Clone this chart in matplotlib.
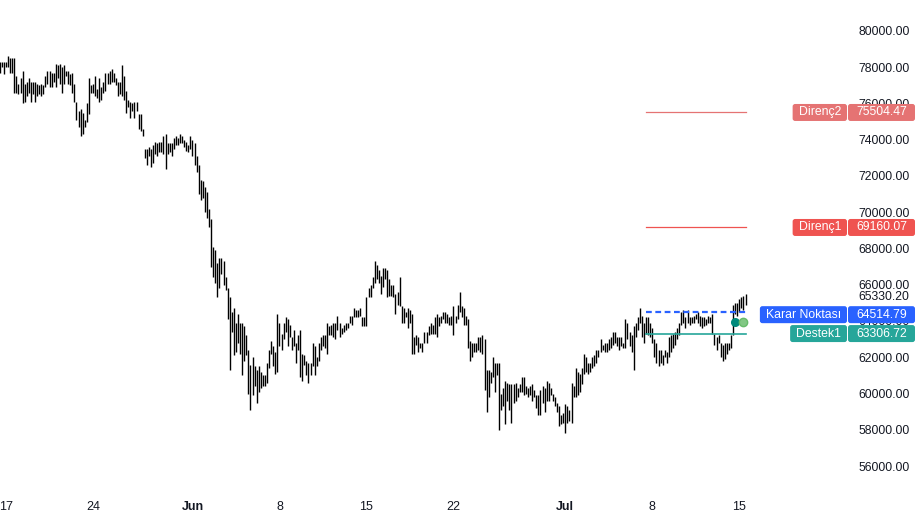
import numpy as np
import pandas as pd
import matplotlib
matplotlib.use('Agg')
import matplotlib.pyplot as plt
import matplotlib.dates as mdates
from matplotlib.patches import FancyBboxPatch
from matplotlib.transforms import IdentityTransform

plt.rcParams['font.family'] = ['Liberation Sans', 'DejaVu Sans']

# 4h bars, first bar time
start = '2024-05-16 12:00'

# bar highs / lows, thousands USD
highs = [
    78.3, 78.3, 78.3, 78.3, 78.6, 78.5, 78.5, 78.5, 77.5, 77.1,
    77.4, 77.8, 77.1, 77.2, 77.4, 77.2, 77.2, 77.2, 77.1, 77.0,
    77.1, 77.0, 77.5, 77.8, 77.8, 77.7, 77.7, 78.2, 78.1, 78.2,
    78.0, 78.1, 77.8, 77.8, 77.6, 77.7, 77.1, 76.1, 75.6, 75.7,
    75.5, 75.1, 76.0, 77.4, 77.0, 77.1, 77.5, 76.8, 77.4, 76.9,
    77.2, 77.7, 77.7, 77.8, 77.9, 77.7, 77.4, 77.2, 77.2, 78.1,
    77.5,
    76.7, 76.2, 76.1, 76.0, 76.1, 76.1,
    75.4, 75.4, 74.6, 73.5, 73.5, 73.6, 73.5, 73.7, 73.9, 73.8,
    73.9, 73.9, 74.2, 74.3, 73.8, 73.8, 73.8, 74.1, 74.2, 74.1,
    74.3, 74.2, 74.0, 73.9, 73.7, 74.2, 74.0, 73.8, 73.1, 72.6,
    71.8, 71.7, 71.4, 71.1, 70.2, 69.6, 68.1, 67.9, 67.2, 67.5,
    67.5, 67.3, 66.4, 65.8, 65.3, 64.5, 64.7, 63.9, 64.4, 63.9,
    63.9, 63.7, 63.2, 62.4,
    61.6, 62.0, 61.5, 61.3, 61.5, 61.2, 61.0, 61.0, 61.7, 62.4,
    62.9, 62.6, 62.3, 64.4, 63.9, 63.3, 63.9, 64.2, 64.1, 63.8,
    63.1, 63.5, 62.8, 63.2, 63.5,
    62.2, 62.1, 61.8, 61.7, 61.7, 62.8, 62.6, 62.0, 62.8, 63.1,
    63.2, 63.2, 63.9, 63.7, 63.8, 63.9, 63.9, 64.3, 63.9, 63.6,
    63.8, 63.9, 63.9, 64.3, 64.3, 64.7, 64.6,
    64.6, 64.7, 64.2, 64.2, 65.3, 65.8, 66.0, 66.4, 67.3,
    67.1, 66.8, 66.5, 66.9, 66.9, 66.8, 66.3,
    66.0, 66.0, 65.5, 65.6, 66.4, 64.8, 64.7, 64.5, 64.7, 64.6,
    64.4, 63.1, 63.2, 63.1, 62.8, 62.8, 63.4, 63.4, 63.7, 63.9,
    63.8, 64.2, 64.4, 64.2, 64.3, 64.5, 64.5, 64.4,
    64.2, 64.3, 64.8, 64.3, 64.9, 65.6, 64.8, 64.7, 64.3, 64.1,
    62.9, 62.8, 62.8, 62.8, 63.1, 63.1, 63.2, 63.0, 61.3, 61.3,
    61.2, 62.0, 61.7, 61.7, 61.7,
    60.0, 60.3, 60.7, 60.6, 60.5, 60.5, 60.5, 60.6, 60.3,
    60.5, 60.9, 60.9, 60.4, 60.3, 60.4, 60.5, 60.2, 59.9, 59.9,
    60.2, 60.4, 60.3, 60.7, 60.6, 60.3, 60.0, 59.8, 59.5, 59.3,
    58.8, 58.9, 59.4, 59.3, 59.1, 60.6, 60.4, 61.4, 61.2, 61.1,
    61.4, 62.2, 62.0, 61.7, 61.7, 62.0, 62.1, 62.4,
    62.4, 63.0, 62.7, 62.8, 62.8, 63.0, 63.1, 63.4, 63.4, 63.1,
    63.1, 63.1, 62.8,
    64.1, 63.9, 63.4, 63.2, 63.7, 63.9, 64.2, 64.7, 64.3, 63.9,
    64.2, 64.2, 63.9, 63.6, 63.0, 62.8, 62.4, 62.4, 62.1, 62.4,
    62.3, 63.1, 63.2, 63.3, 63.4, 63.6, 63.9, 64.5, 64.6, 64.2,
    64.6, 64.2,
    64.2, 64.3, 64.4, 64.5, 64.3, 64.2, 64.2, 64.1,
    64.3, 64.2, 64.4, 63.3, 63.1, 63.2, 62.8, 62.7, 62.8, 62.8,
    62.8, 63.2, 64.9, 65.0, 65.0, 65.2, 65.3, 65.4, 65.5,
]
lows = [
    77.7, 78.0, 77.6, 78.0, 78.0, 77.7, 77.7, 76.6, 76.6, 76.5,
    76.6, 76.0, 76.1, 76.4, 76.6, 76.1, 76.5, 76.1, 76.4, 76.5,
    76.4, 76.5, 76.9, 77.1, 76.9, 76.9, 77.2, 76.9, 77.4, 77.1,
    76.6, 77.1, 77.5, 77.1, 77.0, 76.6, 76.1, 75.1, 74.7, 74.2,
    74.3, 74.7, 75.0, 75.4, 76.6, 76.6, 76.4, 76.3, 76.1, 76.2,
    76.6, 76.7, 77.1, 77.1, 77.2, 77.2, 77.0, 76.4, 76.5, 76.4,
    76.2,
    75.5, 75.8, 75.2, 75.6, 75.2, 75.6,
    74.6, 74.5, 74.2, 73.0, 72.6, 73.1, 72.5, 72.7, 73.2, 73.1,
    73.3, 73.3, 73.2, 72.4, 73.2, 73.3, 73.1, 73.5, 73.7, 73.7,
    73.8, 73.8, 73.6, 73.4, 73.3, 73.5, 73.1, 72.6, 72.2, 71.0,
    70.7, 70.8, 70.0, 69.7, 69.2, 67.0, 66.4, 66.1, 65.3, 65.8,
    66.6, 66.0, 65.7, 64.1, 61.3, 63.4, 62.1, 62.3, 62.8, 62.2,
    61.0, 61.8, 62.1, 60.0,
    59.1, 59.9, 60.4, 59.5, 60.1, 60.3, 60.4, 60.4, 60.6, 61.4,
    62.2, 61.5, 61.1, 61.2, 62.6, 62.4, 63.0, 63.4, 62.6, 63.1,
    62.4, 62.6, 61.7, 62.4, 60.9,
    60.7, 61.6, 61.0, 60.6, 61.0, 61.5, 61.0, 61.5, 61.8, 62.4,
    62.6, 62.5, 62.2, 63.2, 63.2, 63.1, 63.0, 63.5, 63.1, 63.3,
    63.4, 63.5, 63.6, 63.9, 63.8, 64.2, 64.2,
    64.2, 64.3, 63.7, 63.7, 63.7, 65.3, 65.3, 65.8, 66.1,
    66.3, 66.1, 65.5, 65.9, 66.3, 65.3, 65.4,
    65.4, 65.3, 64.4, 64.9, 64.8, 63.9, 63.9, 64.2, 63.6, 63.9,
    62.2, 62.2, 62.7, 62.3, 62.5, 62.3, 62.8, 62.8, 63.2, 63.3,
    63.3, 63.3, 63.1, 63.7, 63.9, 64.1, 63.9, 63.9,
    63.8, 63.8, 63.2, 63.9, 64.1, 64.5, 64.2, 63.8, 63.8, 62.5,
    61.8, 62.0, 62.3, 62.3, 62.4, 62.3, 62.2, 60.2, 59.0, 59.8,
    60.6, 60.9, 60.1, 61.0, 58.0,
    59.1, 59.3, 58.3, 59.6, 59.1, 58.4, 59.5, 59.6, 59.8,
    60.1, 60.1, 59.9, 60.0, 59.8, 59.9, 59.6, 59.8, 59.2, 58.8,
    58.8, 59.5, 59.0, 59.6, 59.6, 59.9, 59.6, 59.3, 59.0, 58.2,
    58.3, 58.4, 57.8, 58.4, 58.5, 58.4, 59.8, 59.8, 59.9, 60.1,
    60.5, 61.1, 61.2, 61.1, 61.2, 61.4, 61.5, 61.7,
    62.0, 62.3, 62.4, 62.3, 62.3, 62.4, 62.5, 62.7, 62.8, 62.6,
    62.4, 62.6, 62.5,
    62.5, 63.0, 62.6, 62.3, 61.3, 63.1, 63.5, 63.9, 63.1, 62.8,
    63.3, 63.2, 63.1, 62.8, 62.0, 61.7, 61.5, 61.7, 61.6, 62.0,
    61.7, 62.0, 62.3, 62.5, 62.7, 63.0, 63.2, 63.8, 63.9, 63.6,
    63.9, 63.8,
    63.9, 63.9, 64.1, 63.9, 63.7, 63.6, 63.7, 63.8,
    63.9, 63.9, 63.3, 62.7, 62.4, 62.8, 62.0, 61.8, 61.9, 62.2,
    62.4, 62.5, 63.2, 64.4, 64.3, 64.5, 64.7, 64.6, 64.9,
]

last_price = 65330.20

level_names = ['Direnç2', 'Direnç1', 'Karar Noktası', 'Destek1']
level_values = [75504.47, 69160.07, 64514.79, 63306.72]
level_colors = ['#e57373', '#ef5350', '#2962ff', '#26a69a']
level_start = '2024-07-07 12:00'
level_end = '2024-07-15 12:00'

signal_times = ['2024-07-14 16:00', '2024-07-15 08:00']
signal_price = 63950

tick_dates = ['2024-05-17', '2024-05-24', '2024-06-01', '2024-06-08', '2024-06-15',
              '2024-06-22', '2024-07-01', '2024-07-08', '2024-07-15']
tick_labels = ['17', '24', 'Jun', '8', '15', '22', 'Jul', '8', '15']


if __name__ == '__main__':
    assert len(highs) == len(lows)
    times = pd.date_range(start, periods=len(highs), freq='4h')
    hi = np.array(highs) * 1000
    lo = np.array(lows) * 1000
    t = mdates.date2num(times)

    fig = plt.figure(figsize=(9.2, 5.2), dpi=100)
    ax = fig.add_axes([0, 30 / 520, 852 / 920, 490 / 520])

    ax.vlines(t, lo, hi, color='black', lw=1.0, zorder=2)

    t0 = mdates.date2num(pd.Timestamp(level_start))
    t1 = mdates.date2num(pd.Timestamp(level_end))
    for name, val, col in zip(level_names, level_values, level_colors):
        if name.startswith('Diren'):
            ax.plot([t0, t1], [val, val], color=col, lw=0.9, zorder=3)
        elif name.startswith('Karar'):
            ax.plot([t0, t1], [val, val], color=col, lw=1.6,
                    ls=(0, (2.6, 1.6)), zorder=3)
        else:
            ax.plot([t0, t1], [val, val], color=col, lw=1.2, zorder=3)

    st = mdates.date2num(pd.to_datetime(signal_times))
    ax.plot(st[0], signal_price, 'o', ms=5.5, color='#00897b', zorder=4)
    ax.plot(st[1], signal_price, 'o', ms=6, mfc='#81c784', mec='#66bb6a', zorder=4)

    ax.set_xlim(mdates.date2num(pd.Timestamp('2024-05-16 12:25')),
                mdates.date2num(pd.Timestamp('2024-07-24 01:30')))
    ax.set_ylim(54676, 81710)

    for s in ax.spines.values():
        s.set_visible(False)
    ax.set_xticks(mdates.date2num(pd.to_datetime(tick_dates)))
    ax.set_xticklabels(tick_labels)
    for lab in ax.get_xticklabels():
        if lab.get_text() in ('Jun', 'Jul'):
            lab.set_fontweight('bold')
    ax.tick_params(axis='x', length=0, pad=8, labelsize=9, labelcolor='#131722')

    yt = np.arange(56000, 80001, 2000)
    ax.yaxis.tick_right()
    ax.set_yticks(yt)
    ax.set_yticklabels([f'{v:.2f}' for v in yt])
    ax.tick_params(axis='y', length=0, pad=4.5, labelsize=8.8, labelcolor='#131722')

    ax.text(1 + 6 / 852, last_price, f'{last_price:.2f}', transform=ax.get_yaxis_transform(),
            ha='left', va='center', fontsize=8.8, color='#131722')

    fig.canvas.draw()
    renderer = fig.canvas.get_renderer()
    ident = IdentityTransform()
    for name, val, col in zip(level_names, level_values, level_colors):
        yc = ax.transData.transform((t0, val))[1]
        if name.startswith('Karar'):
            yc -= 3
        fig.add_artist(FancyBboxPatch((848, yc - 8.5), 67, 17,
                                      boxstyle='round,pad=0,rounding_size=2.5',
                                      transform=ident, fc=col, ec='none', zorder=4))
        fig.text(881.5, yc, f'{val:.2f}', transform=ident, ha='center', va='center',
                 color='white', fontsize=8.8, zorder=5)
        nt = fig.text(841, yc, name, transform=ident, ha='right', va='center',
                      color='white', fontsize=8.8, zorder=5)
        w = nt.get_window_extent(renderer).width
        fig.add_artist(FancyBboxPatch((841 - w - 6, yc - 8.5), w + 12, 17,
                                      boxstyle='round,pad=0,rounding_size=2.5',
                                      transform=ident, fc=col, ec='none', zorder=4))

    fig.savefig('out.png', dpi=100, facecolor='white')
